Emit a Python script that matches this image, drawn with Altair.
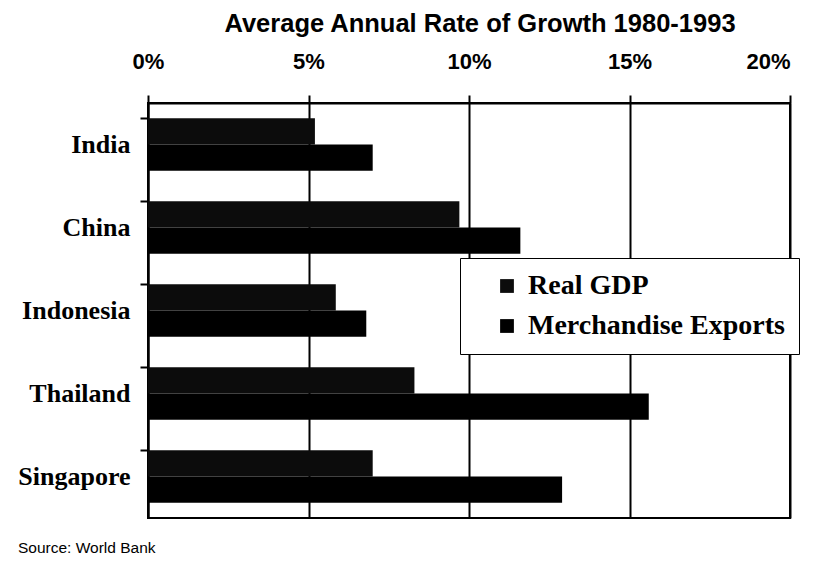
import altair as alt
import pandas as pd

countries = ["India", "China", "Indonesia", "Thailand", "Singapore"]
real_gdp = [5.2, 9.7, 5.85, 8.3, 7.0]
exports = [7.0, 11.6, 6.8, 15.6, 12.9]
series = ["Real GDP", "Merchandise Exports"]
x_ticks = [0, 5, 10, 15, 20]

rows = []
for c, g, e in zip(countries, real_gdp, exports):
    rows.append({"country": c, "series": series[0], "value": g})
    rows.append({"country": c, "series": series[1], "value": e})
df = pd.DataFrame(rows)

bars = alt.Chart(df).mark_bar(strokeWidth=0).encode(
    x=alt.X(
        "value:Q",
        scale=alt.Scale(domain=[0, 20], nice=False),
        axis=alt.Axis(
            orient="top", values=x_ticks, labelExpr="datum.value + '%'", title=None,
            labelFont="Liberation Sans", labelFontSize=22, labelFontWeight="bold",
            labelColor="black", labelPadding=22, tickSize=8, tickWidth=2, tickColor="black",
            labelFlush=False,
            labelAlign=alt.ExprRef("datum.value == 20 ? 'right' : 'center'"),
            domainColor="black", domainWidth=2, grid=True, gridColor="black", gridWidth=2,
            gridOpacity=1,
        ),
    ),
    y=alt.Y(
        "country:N", sort=countries,
        scale=alt.Scale(paddingInner=0.37, paddingOuter=0.185),
        axis=alt.Axis(
            title=None, bandPosition=0, labelFont="Liberation Serif", labelFontSize=26,
            labelFontWeight="bold", labelColor="black", labelPadding=10, tickSize=8,
            tickWidth=2, tickColor="black", domainColor="black", domainWidth=2,
        ),
    ),
    yOffset=alt.YOffset("series:N", sort=series, scale=alt.Scale(paddingInner=0, paddingOuter=0)),
    color=alt.Color(
        "series:N", sort=series,
        scale=alt.Scale(domain=series, range=["#0c0c0c", "#000000"]),
        legend=alt.Legend(
            title=None, orient="none", legendX=312, legendY=155, fillColor="white",
            strokeColor="black", padding=14, symbolType="square", symbolSize=190,
            symbolStrokeWidth=0, symbolOffset=19, labelFont="Liberation Serif",
            labelFontSize=28, labelFontWeight="bold", labelColor="black", rowPadding=12,
            labelLimit=400, labelOffset=7,
        ),
    ),
)

source = alt.Chart(pd.DataFrame({"t": ["Source: World Bank"]})).mark_text(
    align="left", baseline="alphabetic", font="Liberation Sans", fontSize=15.5, color="black"
).encode(x=alt.value(-130), y=alt.value(450), text="t:N")

chart = alt.layer(bars, source).properties(
    width=642,
    height=415,
    title=alt.Title(
        "Average Annual Rate of Growth 1980-1993", font="Liberation Sans", fontSize=25.5,
        fontWeight="bold", anchor="middle", dx=11, offset=13, color="black",
    ),
    autosize=alt.AutoSizeParams(type="none"),
    padding={"left": 140, "top": 95, "right": 42, "bottom": 40},
).configure(background="white").configure_view(stroke="black", strokeWidth=2)

chart.save("out.html", embed_options={"renderer": "svg", "actions": False})
